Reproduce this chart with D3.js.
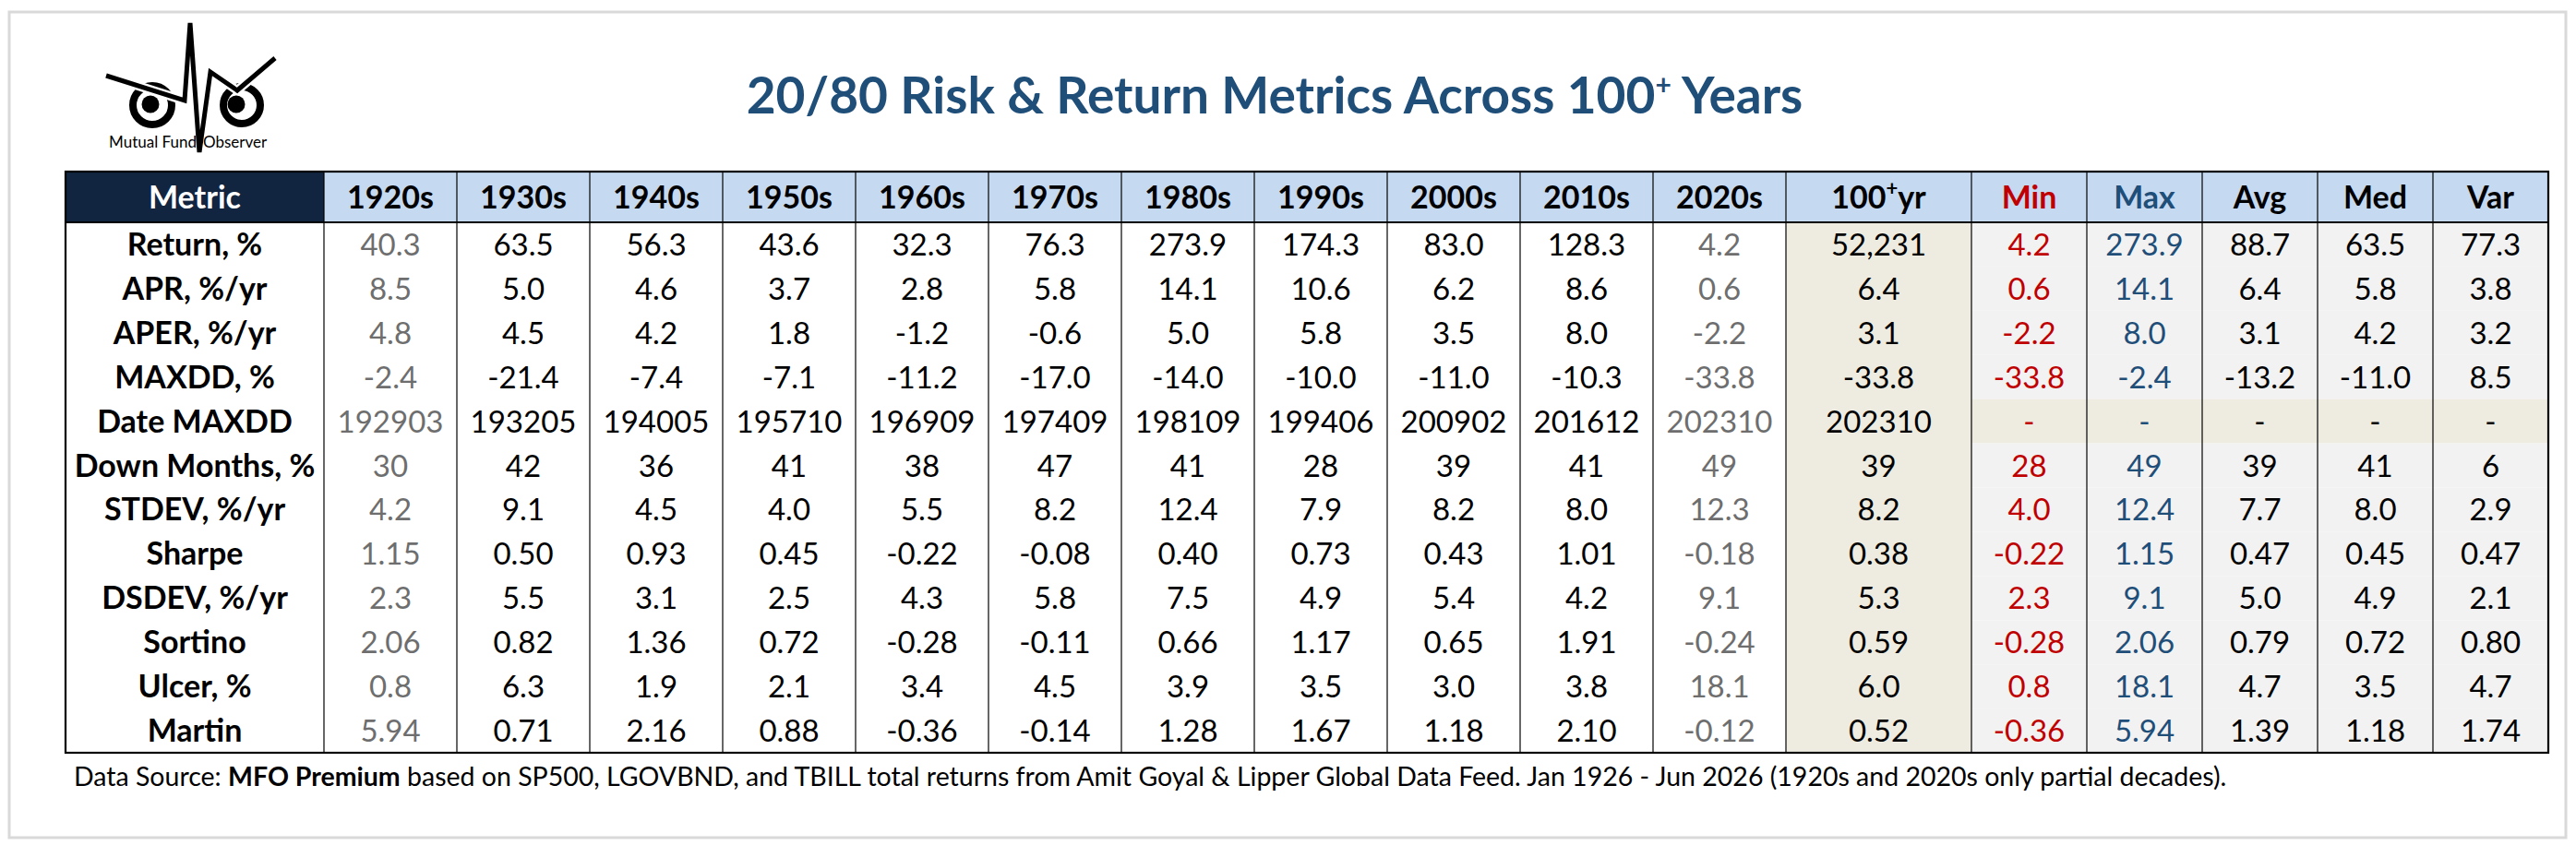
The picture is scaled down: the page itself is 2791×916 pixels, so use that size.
<!DOCTYPE html>
<html lang="en">

<head>
    <meta charset="utf-8">
    <script src='https://d3js.org/d3.v7.min.js'></script>
    <style>
        body { margin: 0; background: #fff; }
        text { font-family: Lato, "Open Sans", sans-serif; }
    </style>
</head>

<body>

    <script>
        // table content
        const metrics = ["Return, %", "APR, %/yr", "APER, %/yr", "MAXDD, %", "Date MAXDD", "Down Months, %",
            "STDEV, %/yr", "Sharpe", "DSDEV, %/yr", "Sortino", "Ulcer, %", "Martin"];
        const decades = ["1920s", "1930s", "1940s", "1950s", "1960s", "1970s", "1980s", "1990s", "2000s", "2010s", "2020s"];
        const statCols = ["Min", "Max", "Avg", "Med", "Var"];
        const partialDecades = ["1920s", "2020s"];

        // one row per metric, one value per decade
        const decadeValues = [
            [40.3, 63.5, 56.3, 43.6, 32.3, 76.3, 273.9, 174.3, 83.0, 128.3, 4.2],
            [8.5, 5.0, 4.6, 3.7, 2.8, 5.8, 14.1, 10.6, 6.2, 8.6, 0.6],
            [4.8, 4.5, 4.2, 1.8, -1.2, -0.6, 5.0, 5.8, 3.5, 8.0, -2.2],
            [-2.4, -21.4, -7.4, -7.1, -11.2, -17.0, -14.0, -10.0, -11.0, -10.3, -33.8],
            [192903, 193205, 194005, 195710, 196909, 197409, 198109, 199406, 200902, 201612, 202310],
            [30, 42, 36, 41, 38, 47, 41, 28, 39, 41, 49],
            [4.2, 9.1, 4.5, 4.0, 5.5, 8.2, 12.4, 7.9, 8.2, 8.0, 12.3],
            [1.15, 0.50, 0.93, 0.45, -0.22, -0.08, 0.40, 0.73, 0.43, 1.01, -0.18],
            [2.3, 5.5, 3.1, 2.5, 4.3, 5.8, 7.5, 4.9, 5.4, 4.2, 9.1],
            [2.06, 0.82, 1.36, 0.72, -0.28, -0.11, 0.66, 1.17, 0.65, 1.91, -0.24],
            [0.8, 6.3, 1.9, 2.1, 3.4, 4.5, 3.9, 3.5, 3.0, 3.8, 18.1],
            [5.94, 0.71, 2.16, 0.88, -0.36, -0.14, 1.28, 1.67, 1.18, 2.10, -0.12]
        ];
        const centuryValues = [52231, 6.4, 3.1, -33.8, 202310, 39, 8.2, 0.38, 5.3, 0.59, 6.0, 0.52];
        const minValues = [4.2, 0.6, -2.2, -33.8, null, 28, 4.0, -0.22, 2.3, -0.28, 0.8, -0.36];
        const maxValues = [273.9, 14.1, 8.0, -2.4, null, 49, 12.4, 1.15, 9.1, 2.06, 18.1, 5.94];
        const avgValues = [88.7, 6.4, 3.1, -13.2, null, 39, 7.7, 0.47, 5.0, 0.79, 4.7, 1.39];
        const medValues = [63.5, 5.8, 4.2, -11.0, null, 41, 8.0, 0.45, 4.9, 0.72, 3.5, 1.18];
        const varValues = [77.3, 3.8, 3.2, 8.5, null, 6, 2.9, 0.47, 2.1, 0.80, 4.7, 1.74];
        const rowFormats = [".1f", ".1f", ".1f", ".1f", "d", "d", ".1f", ".2f", ".1f", ".2f", ".1f", ".2f"];

        const W = 2791, H = 916;
        const svg = d3.select("body").append("svg")
            .attr("width", W).attr("height", H);

        // plain hyphen for negatives, like the spreadsheet
        const locale = d3.formatLocale({ decimal: ".", thousands: ",", grouping: [3], currency: ["$", ""], minus: "-" });
        const fmt = (v, i, col) => {
            if (v === null) return "-";
            if (col === "century" && i === 0) return locale.format(",.0f")(v);
            return locale.format(rowFormats[i])(v);
        };

        // scales
        const left = 71, metricRight = 351, decRight = 1935, centRight = 2136, right = 2761;
        const headTop = 186, headBottom = 241, bottom = 816;
        const xDec = d3.scaleBand().domain(decades).range([metricRight, decRight]);
        const xStat = d3.scaleBand().domain(statCols).range([centRight, right]);
        const y = d3.scaleBand().domain(metrics).range([headBottom, bottom]);

        // outer frame
        svg.append("rect").attr("x", 10).attr("y", 13).attr("width", 2770).attr("height", 895)
            .attr("fill", "#fff").attr("stroke", "#d9d9d9").attr("stroke-width", 3);

        // title
        const title = svg.append("text")
            .attr("x", 1381).attr("y", 123)
            .attr("text-anchor", "middle")
            .attr("font-size", 55).attr("font-weight", "bold")
            .attr("fill", "#1f4e79");
        title.append("tspan").text("20/80 Risk & Return Metrics Across 100");
        title.append("tspan").attr("font-size", 30).attr("dy", -20).text("+");
        title.append("tspan").attr("dy", 20).text(" Years");

        // logo
        const logo = svg.append("g");
        const line = d3.line();
        logo.append("circle").attr("cx", 165).attr("cy", 114).attr("r", 21)
            .attr("fill", "none").attr("stroke", "#000").attr("stroke-width", 8);
        logo.append("circle").attr("cx", 163).attr("cy", 113).attr("r", 9.5).attr("fill", "#000");
        logo.append("circle").attr("cx", 262).attr("cy", 114).attr("r", 20)
            .attr("fill", "none").attr("stroke", "#000").attr("stroke-width", 8);
        logo.append("circle").attr("cx", 256).attr("cy", 113).attr("r", 9.5).attr("fill", "#000");
        const brow = [[115, 82], [200, 109], [206, 25], [216, 165], [228, 78], [257, 98], [298, 63]];
        logo.append("path").attr("d", line(brow)).attr("fill", "none")
            .attr("stroke", "#fff").attr("stroke-width", 10).attr("stroke-linejoin", "bevel");
        logo.append("path").attr("d", line(brow)).attr("fill", "none")
            .attr("stroke", "#000").attr("stroke-width", 5).attr("stroke-linejoin", "miter")
            .attr("stroke-miterlimit", 3);
        logo.append("text").attr("x", 213).attr("y", 160).attr("text-anchor", "end")
            .attr("font-size", 17).text("Mutual Fund");
        logo.append("text").attr("x", 220).attr("y", 160)
            .attr("font-size", 17).text("Observer");

        // body backgrounds
        svg.append("rect").attr("x", metricRight).attr("y", headBottom)
            .attr("width", decRight - metricRight).attr("height", bottom - headBottom).attr("fill", "#fff");
        svg.append("rect").attr("x", decRight).attr("y", headBottom)
            .attr("width", centRight - decRight).attr("height", bottom - headBottom).attr("fill", "#eeece1");
        svg.selectAll(".statbg").data(metrics).join("rect")
            .attr("x", centRight).attr("y", d => y(d))
            .attr("width", right - centRight).attr("height", y.bandwidth())
            .attr("fill", (d, i) => minValues[i] === null ? "#eeebe0" : "#f2f2f2");

        // header
        svg.append("rect").attr("x", left).attr("y", headTop)
            .attr("width", metricRight - left).attr("height", headBottom - headTop).attr("fill", "#112440");
        svg.append("rect").attr("x", metricRight).attr("y", headTop)
            .attr("width", right - metricRight).attr("height", headBottom - headTop).attr("fill", "#c5d9f1");

        const headY = (headTop + headBottom) / 2 + 12;
        const headText = svg.append("g").attr("font-size", 34).attr("font-weight", "bold")
            .attr("text-anchor", "middle");
        headText.append("text").attr("x", (left + metricRight) / 2).attr("y", headY)
            .attr("fill", "#fff").text("Metric");
        headText.selectAll(".dh").data(decades).join("text")
            .attr("x", d => xDec(d) + xDec.bandwidth() / 2).attr("y", headY)
            .text(d => d);
        const cent = headText.append("text").attr("x", (decRight + centRight) / 2).attr("y", headY);
        cent.append("tspan").text("100");
        cent.append("tspan").attr("font-size", 22).attr("dy", -14).text("+");
        cent.append("tspan").attr("dy", 14).text("yr");
        const statColor = { Min: "#c00000", Max: "#1f4e79" };
        headText.selectAll(".sh").data(statCols).join("text")
            .attr("x", d => xStat(d) + xStat.bandwidth() / 2).attr("y", headY)
            .attr("fill", d => statColor[d] || "#000")
            .text(d => d);

        // body text
        const body = svg.append("g").attr("font-size", 33).attr("text-anchor", "middle");
        const cy = d => y(d) + y.bandwidth() / 2 + 12;
        body.selectAll(".ml").data(metrics).join("text")
            .attr("x", (left + metricRight) / 2).attr("y", d => cy(d))
            .attr("font-size", 34).attr("font-weight", "bold").text(d => d);

        metrics.forEach((m, i) => {
            body.selectAll(null).data(decades).join("text")
                .attr("x", d => xDec(d) + xDec.bandwidth() / 2).attr("y", cy(m))
                .attr("fill", d => partialDecades.includes(d) ? "#6e6e6e" : "#000")
                .text((d, j) => fmt(decadeValues[i][j], i, "decade"));
            body.append("text").attr("x", (decRight + centRight) / 2).attr("y", cy(m))
                .text(fmt(centuryValues[i], i, "century"));
            const stats = [minValues[i], maxValues[i], avgValues[i], medValues[i], varValues[i]];
            body.selectAll(null).data(statCols).join("text")
                .attr("x", d => xStat(d) + xStat.bandwidth() / 2).attr("y", cy(m))
                .attr("fill", d => statColor[d] || "#000")
                .text((d, j) => fmt(stats[j], i, "stat"));
        });

        // grid lines
        const vlines = [metricRight].concat(decades.map(d => xDec(d) + xDec.bandwidth()), [centRight],
            statCols.slice(1).map(d => xStat(d)));
        svg.selectAll(".vl").data(vlines).join("line")
            .attr("x1", d => d).attr("x2", d => d)
            .attr("y1", headTop).attr("y2", bottom)
            .attr("stroke", "#000").attr("stroke-width", 1.2);
        svg.append("line").attr("x1", left).attr("x2", right)
            .attr("y1", headBottom).attr("y2", headBottom)
            .attr("stroke", "#000").attr("stroke-width", 2);
        svg.append("rect").attr("x", left).attr("y", headTop)
            .attr("width", right - left).attr("height", bottom - headTop)
            .attr("fill", "none").attr("stroke", "#000").attr("stroke-width", 2.2);

        // footnote
        const note = svg.append("text").attr("x", 80).attr("y", 852).attr("font-size", 28.5);
        note.append("tspan").text("Data Source: ");
        note.append("tspan").attr("font-weight", "bold").text("MFO Premium");
        note.append("tspan").text(" based on SP500, LGOVBND, and TBILL total returns from Amit Goyal & Lipper Global Data Feed. Jan 1926 - Jun 2026 (1920s and 2020s only partial decades).");
    </script>

</body>

</html>
